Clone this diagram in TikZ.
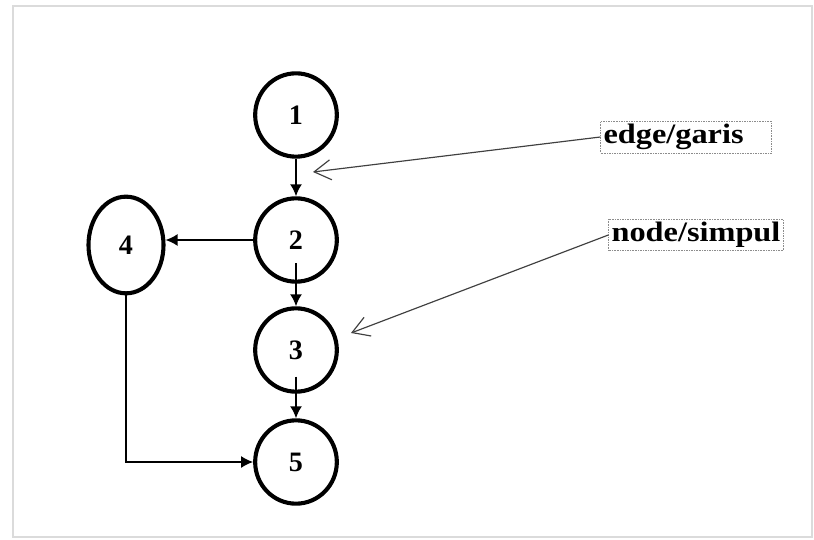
\documentclass[tikz,border=0pt]{standalone}
\usepackage{fontspec}
\setmainfont{Liberation Serif}
\newfontfamily\labelfont[FakeStretch=1.15]{Liberation Serif}
\usetikzlibrary{arrows,arrows.meta,shapes,positioning}
\definecolor{frame-gray}{rgb}{0.86, 0.86, 0.86}
\definecolor{box-gray}{rgb}{0.55, 0.55, 0.55}

\begin{document}
\begin{tikzpicture}
    [node distance=3.75cm,
    on grid,
    vertex/.style = {shape=ellipse, draw=black, line width=3.5pt, inner sep=0pt,
      minimum width=2.45cm, minimum height=2.5cm, font=\fontsize{24}{26}\selectfont\bfseries},
    caption/.style = {draw=box-gray, densely dotted, inner sep=2.5pt,
      font=\labelfont\fontsize{24}{26}\selectfont\bfseries},
    post/.style={-{Latex[length=3.6mm,width=3.6mm]}, line width=1.4pt},
    pointer/.style={-{Straight Barb[length=5mm,width=6mm]}, line width=1pt, draw=black!75}]

    \useasboundingbox (-8.88,3.45) rectangle (15.54,-12.75);
    \draw [frame-gray, line width=1.5pt] (-8.49,3.27) rectangle (15.48,-12.66);

    \node [vertex] (n1) {1};
    \node [vertex] (n2) [below=of n1] {2};
    \node [vertex] (n3) [below=3.3cm of n2] {3};
    \node [vertex] (n5) [below=3.36cm of n3] {5};
    \node [vertex, minimum width=2.25cm, minimum height=2.9cm] (n4) [left=5.1cm of n2, yshift=-0.15cm] {4};

    \draw [post] (n1) -- (n2);
    \draw [post] (n2.west) -- (n2.west -| n4.east);
    \draw [post] ([yshift=-0.7cm]n2.center) -- (n3);
    \draw [post] ([yshift=-0.8cm]n3.center) -- (n5);
    \draw [post] (n4) |- (n5);

    \node [caption, text width=4.95cm] (garis) [right=11.7cm of n1, yshift=-0.66cm] {edge/garis};
    \node [caption] (simpul) [right=12cm of n2, yshift=0.15cm] {node/simpul};
    \coordinate (garis tip) at ([xshift=0.51cm, yshift=-1.71cm]n1.center);
    \coordinate (simpul tip) at ([xshift=1.65cm, yshift=0.51cm]n3.center);
    \draw [pointer] (garis.west) -- (garis tip);
    \draw [pointer] (simpul.west) -- (simpul tip);

  \end{tikzpicture}
\end{document}
